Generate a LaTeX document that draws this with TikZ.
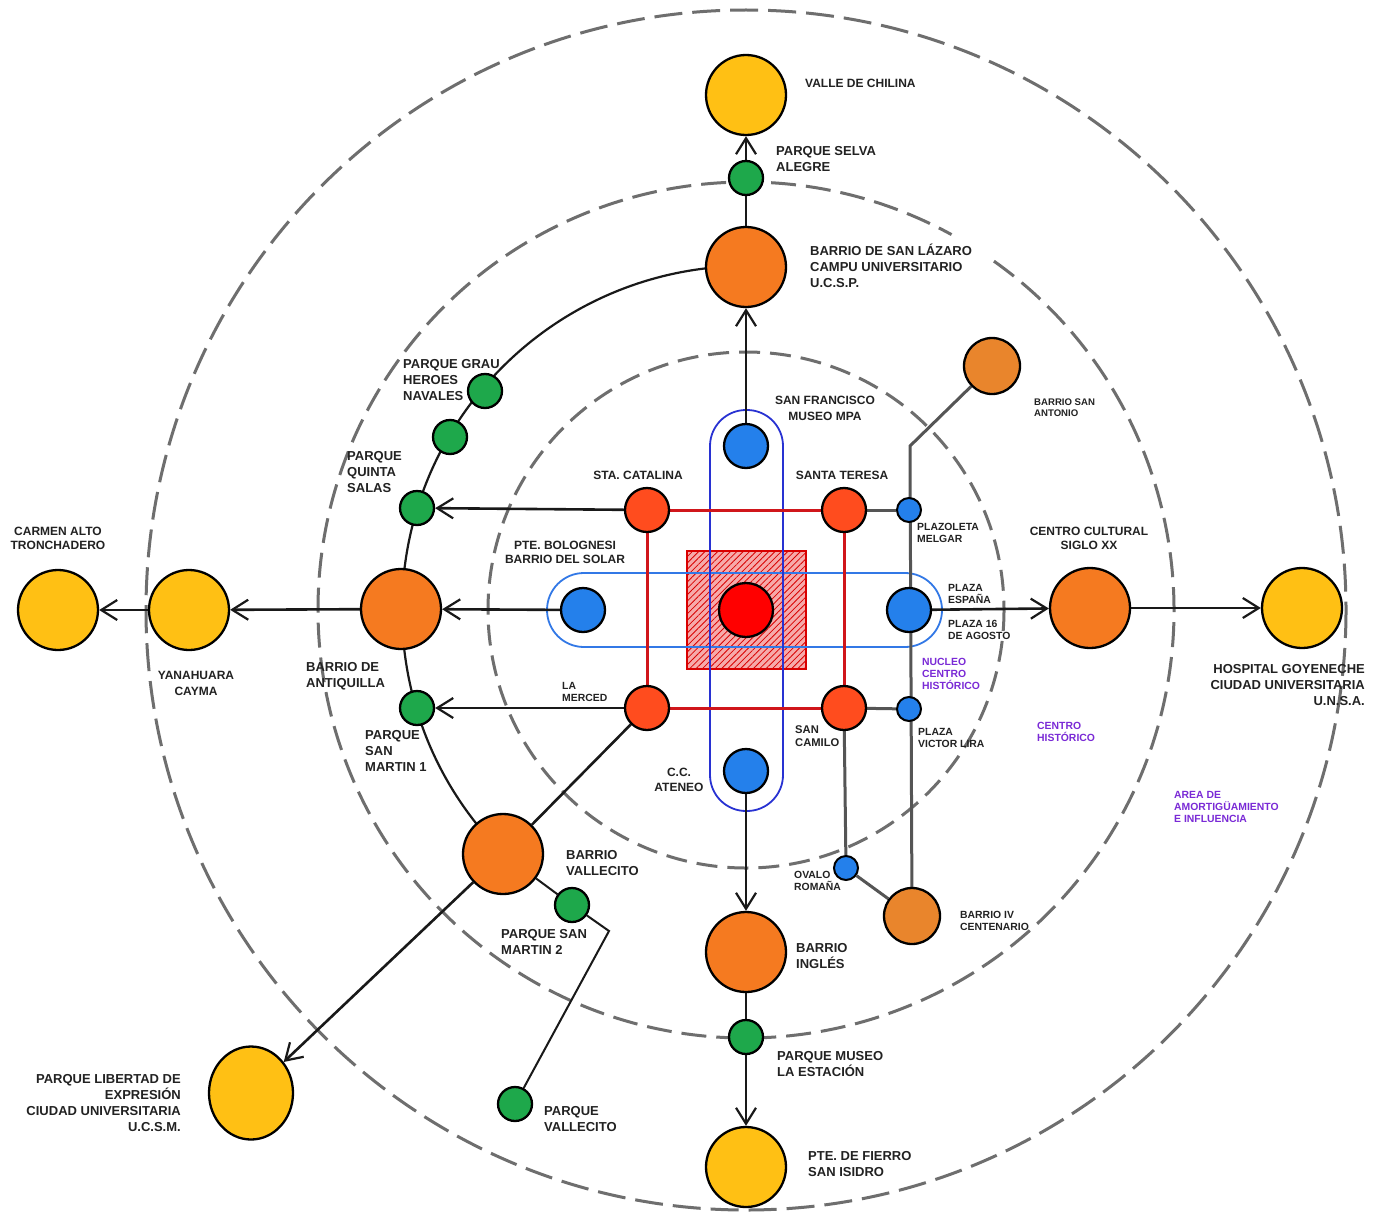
\documentclass[tikz,border=0pt]{standalone}
\usepackage{fontspec}
\setmainfont{Liberation Sans}
\usetikzlibrary{arrows.meta,patterns.meta,backgrounds,shapes.geometric}
\definecolor{cyel}{RGB}{255,192,20}
\definecolor{cora}{RGB}{245,122,32}
\definecolor{cora2}{RGB}{233,133,44}
\definecolor{cred}{RGB}{255,76,30}
\definecolor{cblue}{RGB}{36,128,235}
\definecolor{cgreen}{RGB}{30,168,75}
\definecolor{cpurp}{RGB}{122,42,214}
\definecolor{cring}{RGB}{110,110,110}
\definecolor{cgline}{RGB}{85,85,85}
\definecolor{csq}{RGB}{208,22,27}
\definecolor{cpillv}{RGB}{40,50,210}
\definecolor{cpillh}{RGB}{50,120,230}
\definecolor{ctxt}{RGB}{34,34,34}
\definecolor{chatch}{RGB}{246,170,170}
\begin{document}
\begin{tikzpicture}[x=1pt,y=-1pt,
  dot/.style={circle, draw=black, line width=2.3pt, inner sep=0pt},
  bigdot/.style={dot, minimum size=80pt},
  meddot/.style={dot, minimum size=44pt},
  greendot/.style={dot, minimum size=34pt, fill=cgreen},
  bluedot/.style={dot, minimum size=24pt, fill=cblue, line width=2pt},
  lbl/.style={inner sep=0pt, text=ctxt, font=\bfseries\fontsize{13}{16}\selectfont, align=left},
  lblm/.style={inner sep=0pt, text=ctxt, font=\bfseries\fontsize{12}{14}\selectfont, align=center},
  lbls/.style={inner sep=0pt, text=ctxt, font=\bfseries\fontsize{10.4}{12}\selectfont, align=left},
  purp/.style={text=cpurp},
  conn/.style={line width=2.6pt, draw=black!90},
  arr/.style={conn, -{Straight Barb[length=16pt,width=20pt,line width=2.2pt]}},
  ring/.style={draw=cring, line width=3pt, dash pattern=on 28pt off 10pt},
  gline/.style={draw=cgline, line width=3pt},
  sqline/.style={draw=csq, line width=3pt},
]
\useasboundingbox (0,0) rectangle (1380,1212);
\coordinate (ctr) at (746,610);

% ---------- nodes ----------
\node[bigdot, fill=cyel] (chilina) at (746,95) {};
\node[greendot] (selva) at (746,178) {};
\node[bigdot, fill=cora] (lazaro) at (746,267) {};
\node[meddot, fill=cblue] (sanfran) at (746,446) {};
\node[meddot, fill=cred] (stacat) at (647,510) {};
\node[meddot, fill=cred] (santer) at (844,510) {};
\node[meddot, fill=cred] (merced) at (647,708) {};
\node[meddot, fill=cred] (sancam) at (844,708) {};
\node[meddot, fill=cblue] (bolog) at (583,610) {};
\node[meddot, fill=cblue] (espana) at (909,610) {};
\node[meddot, fill=cblue] (ateneo) at (746,771) {};
\node[dot, fill=red, minimum size=54pt] (plaza) at (746,610) {};
\node[bluedot] (melgar) at (909,510) {};
\node[bluedot] (lira) at (909,709) {};
\node[bluedot] (ovalo) at (846,868) {};
\node[dot, fill=cora2, minimum size=56pt] (antonio) at (992,366) {};
\node[dot, fill=cora2, minimum size=56pt] (ivcent) at (912,916) {};
\node[bigdot, fill=cora] (cultural) at (1090,608) {};
\node[bigdot, fill=cyel] (hospital) at (1302,608) {};
\node[bigdot, fill=cora] (antiq) at (401,609) {};
\node[bigdot, fill=cyel] (yanah) at (189,610) {};
\node[bigdot, fill=cyel] (carmen) at (58,610) {};
\node[greendot] (quinta) at (417,508) {};
\node[greendot] (gmid) at (450,437) {};
\node[greendot] (grau) at (485,391) {};
\node[greendot] (sanmar1) at (417,708) {};
\node[bigdot, fill=cora] (vallecito) at (503,854) {};
\node[greendot] (sanmar2) at (572,905) {};
\node[greendot] (pvalle) at (515,1104) {};
\node[ellipse, draw=black, line width=2.3pt, inner sep=0pt, fill=cyel, minimum width=84pt, minimum height=93pt] (libertad) at (251,1093) {};
\node[bigdot, fill=cora] (ingles) at (746,952) {};
\node[greendot] (museo) at (746,1037) {};
\node[bigdot, fill=cyel] (fierro) at (746,1167) {};
\coordinate (bendA) at (910,446);
\coordinate (bendB) at (609,931);

% ---------- labels ----------
\node[lblm, anchor=west] (tchilina) at (805,83) {VALLE DE CHILINA};
\node[lbl, anchor=west] (tselva) at (776,159) {PARQUE SELVA\\ALEGRE};
\node[lbl, anchor=west] (tlazaro) at (810,266) {BARRIO DE SAN LÁZARO\\CAMPU UNIVERSITARIO\\U.C.S.P.};
\node[lbl, anchor=west] (tgrau) at (403,380) {PARQUE GRAU\\HEROES\\NAVALES};
\node[lbl, anchor=west] (tquinta) at (347,472) {PARQUE\\QUINTA\\SALAS};
\node[lblm, font=\bfseries\fontsize{12}{16}\selectfont] (tsanfran) at (825,408) {SAN FRANCISCO\\MUSEO MPA};
\node[lblm] (tstacat) at (638,475) {STA. CATALINA};
\node[lblm] (tsanter) at (842,475) {SANTA TERESA};
\node[lbls, anchor=west] (tmelgar) at (917,533) {PLAZOLETA\\MELGAR};
\node[lbls, anchor=west, font=\bfseries\fontsize{9.6}{11}\selectfont] (tantonio) at (1034,408) {BARRIO SAN\\ANTONIO};
\node[lblm] (tbolog) at (565,552) {PTE. BOLOGNESI\\BARRIO DEL SOLAR};
\node[lblm] (tcarmen) at (58,538) {CARMEN ALTO\\TRONCHADERO};
\node[lblm, font=\bfseries\fontsize{12}{16}\selectfont] (tyanah) at (196,683) {YANAHUARA\\CAYMA};
\node[lbl, anchor=west] (tantiq) at (306,676) {BARRIO DE\\ANTIQUILLA};
\node[lbls, anchor=west] (tespana) at (948,594) {PLAZA\\ESPAÑA};
\node[lbls, anchor=west] (tagosto) at (948,630) {PLAZA 16\\DE AGOSTO};
\node[lbls, purp, anchor=west] (tnucleo) at (922,674) {NUCLEO\\CENTRO\\HISTÓRICO};
\node[lblm] (tcultural) at (1089,538) {CENTRO CULTURAL\\SIGLO XX};
\node[lbl, anchor=east, align=right] (thospital) at (1365,685) {HOSPITAL GOYENECHE\\CIUDAD UNIVERSITARIA\\U.N.S.A.};
\node[lbls, purp, anchor=west] (tcentro) at (1037,732) {CENTRO\\HISTÓRICO};
\node[lbls, purp, anchor=west] (tarea) at (1174,807) {AREA DE\\AMORTIGÜAMIENTO\\E INFLUENCIA};
\node[lbls, anchor=west] (tmerced) at (562,692) {LA\\MERCED};
\node[lbls, anchor=west, font=\bfseries\fontsize{11.2}{13}\selectfont] (tsancam) at (795,736) {SAN\\CAMILO};
\node[lbls, anchor=west] (tlira) at (918,738) {PLAZA\\VICTOR LIRA};
\node[lblm, font=\bfseries\fontsize{12}{15}\selectfont] (tateneo) at (679,780) {C.C.\\ATENEO};
\node[lbl, anchor=west] (tsanmar1) at (365,751) {PARQUE\\SAN\\MARTIN 1};
\node[lbl, anchor=west] (tvallecito) at (566,863) {BARRIO\\VALLECITO};
\node[lbl, anchor=west] (tsanmar2) at (501,942) {PARQUE SAN\\MARTIN 2};
\node[lbls, anchor=west] (tovalo) at (794,881) {OVALO\\ROMAÑA};
\node[lbls, anchor=west] (tivcent) at (960,921) {BARRIO IV\\CENTENARIO};
\node[lbl, anchor=west] (tingles) at (796,956) {BARRIO\\INGLÉS};
\node[lbl, anchor=west] (tmuseo) at (777,1064) {PARQUE MUSEO\\LA ESTACIÓN};
\node[lbl, anchor=west] (tfierro) at (808,1164) {PTE. DE FIERRO\\SAN ISIDRO};
\node[lbl, anchor=east, align=right] (tlibertad) at (181,1103) {PARQUE LIBERTAD DE\\EXPRESIÓN\\CIUDAD UNIVERSITARIA\\U.C.S.M.};
\node[lbl, anchor=west] (tpvalle) at (544,1119) {PARQUE\\VALLECITO};

% ---------- background drawing ----------
\begin{scope}[on background layer]
  \fill[white] (0,0) rectangle (1380,1212);
  % rings
  \draw[ring] (ctr) circle[radius=600];
  \draw[ring, dash pattern=on 25pt off 10pt] (ctr) ++(-54.6:428) arc[start angle=-54.6, end angle=298.7, radius=428];
  \draw[ring, dash pattern=on 21pt off 10pt] (ctr) circle[radius=258];
  % solid arc
  \draw[conn, line width=2.2pt] (ctr) ++(135:344) arc[start angle=135, end angle=270, radius=344];
  % hatched square
  \fill[chatch] (687,551) rectangle (806,669);
  \fill[pattern={Lines[angle=45,distance=4.5pt,line width=0.8pt]}, pattern color=red!85!black] (687,551) rectangle (806,669);
  \draw[red!85!black, line width=1.5pt] (687,551) rectangle (806,669);
  % pills
  \draw[cpillh, line width=1.8pt, rounded corners=37pt] (547,573) rectangle (942,647);
  \draw[cpillv, line width=1.8pt, rounded corners=36pt] (710,410) rectangle (783,811);
  % red square
  \draw[sqline] (stacat) -- (santer);
  \draw[sqline] (santer) -- (sancam);
  \draw[sqline] (sancam) -- (merced);
  \draw[sqline] (merced) -- (stacat);
  % gray lines
  \draw[gline] (antonio) -- (bendA) -- (ivcent);
  \draw[gline] (santer) -- (melgar);
  \draw[gline] (sancam) -- (lira);
  \draw[gline] (sancam) -- (ovalo);
  \draw[gline] (ovalo) -- (ivcent);
  % black connectors
  \draw[arr] (selva) -- (chilina);
  \draw[conn] (selva) -- (lazaro);
  \draw[arr] (sanfran) -- (lazaro);
  \draw[arr] (stacat) -- (quinta);
  \draw[arr] (bolog) -- (antiq);
  \draw[arr] (antiq) -- (yanah);
  \draw[arr] (yanah) -- (carmen);
  \draw[arr] (merced) -- (sanmar1);
  \draw[conn] (merced) -- (vallecito);
  \draw[arr] (vallecito) -- (libertad);
  \draw[conn, line width=2pt] (vallecito) -- (sanmar2) -- (bendB) -- (pvalle);
  \draw[arr] (ateneo) -- (ingles);
  \draw[conn] (ingles) -- (museo);
  \draw[arr] (museo) -- (fierro);
  \draw[arr] (espana) -- (cultural);
  \draw[arr] (cultural) -- (hospital);
\end{scope}
\end{tikzpicture}
\end{document}
